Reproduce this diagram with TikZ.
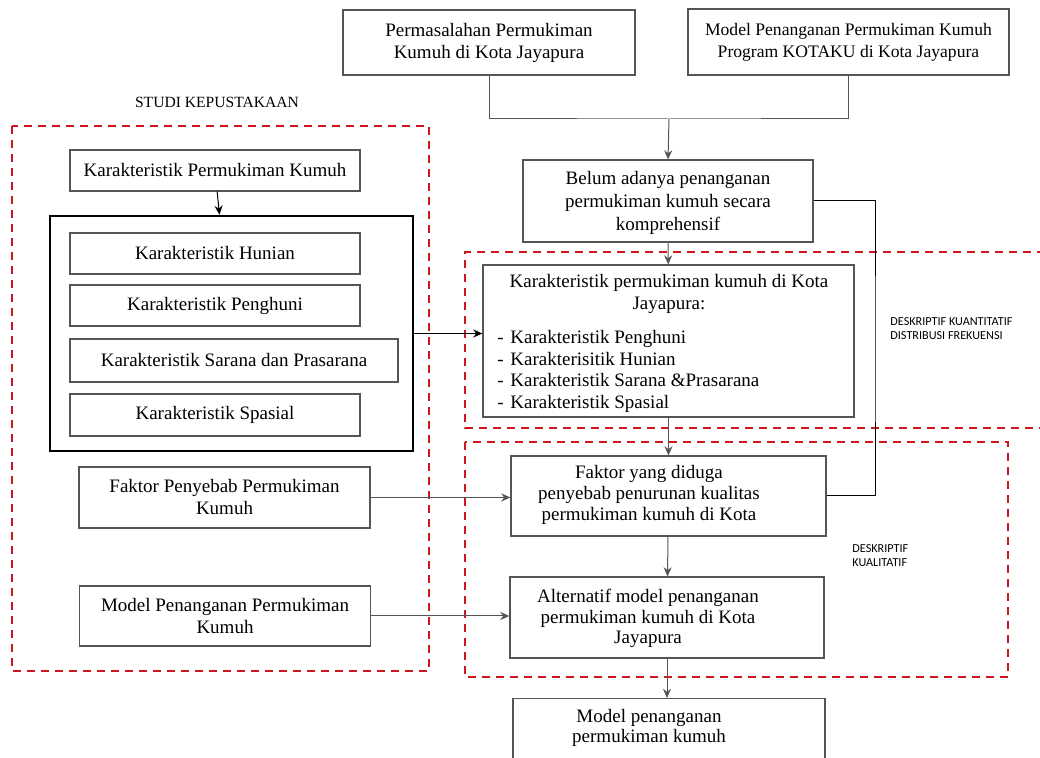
\documentclass[tikz,border=0pt]{standalone}
\usepackage{fontspec}
\setmainfont{Liberation Serif}
\newfontfamily\sanskecil{Carlito}
\usetikzlibrary{arrows.meta}
\definecolor{garisAbu}{RGB}{85,85,85}
\definecolor{merahPutus}{RGB}{205,22,30}
\newcommand{\butir}[1]{\makebox[6.5pt][l]{-}#1}

\begin{document}
\begin{tikzpicture}[x=0.5pt,y=-0.5pt,
  kotak/.style={draw=garisAbu, line width=0.55pt, inner sep=0pt, minimum width=145pt, minimum height=20.5pt, align=center, font=\fontsize{9.5}{11}\selectfont},
  teks/.style={inner sep=0pt, align=center, font=\fontsize{9.5}{11}\selectfont},
  panah/.style={-{Stealth[length=4.6pt,width=4pt]}, draw=garisAbu, line width=0.5pt},
  garis/.style={draw=garisAbu, line width=0.5pt},
  garismerah/.style={draw=merahPutus, line width=1pt, dash pattern=on 4pt off 3pt},
  catatan/.style={inner sep=0pt, align=left, anchor=west, font=\sanskecil\fontsize{6.1}{7}\selectfont}]
  \useasboundingbox (0,0) rectangle (1040,758);

  % sumber masalah
  \node[kotak, minimum width=146pt, minimum height=32.5pt] (masalah) at (489,42.5) {Permasalahan Permukiman\\Kumuh di Kota Jayapura};
  \node[kotak, minimum width=160.5pt, minimum height=33pt, font=\fontsize{8.8}{11}\selectfont] (kotaku) at (848.5,42) {Model Penanganan Permukiman Kumuh\\Program KOTAKU di Kota Jayapura};
  \node[kotak, minimum width=145pt, minimum height=41pt] (belum) at (668,201) {};
  \node[teks, font=\fontsize{9.5}{11.5}\selectfont] (belumTeks) at (668,203) {Belum adanya penanganan\\permukiman kumuh secara\\komprehensif};
  \coordinate (gabung) at (669,119);
  \coordinate (belok) at (875,350);

  % studi kepustakaan
  \node[teks, font=\fontsize{7.8}{9}\selectfont] (studi) at (217,102) {STUDI KEPUSTAKAAN};
  \draw[garismerah] (12,126) rectangle (429,671);
  \node[kotak] (karPmk) at (215,170.5) {Karakteristik Permukiman Kumuh};
  \node[kotak, draw=black, line width=1.2pt, minimum width=181.5pt, minimum height=117.5pt] (grup) at (231.5,333.5) {};
  \node[kotak] (hunian) at (215,253.5) {Karakteristik Hunian};
  \node[kotak] (penghuni) at (215,305.5) {Karakteristik Penghuni};
  \node[kotak, minimum width=164pt, minimum height=21.5pt] (sarana) at (234,360.5) {Karakteristik Sarana dan Prasarana};
  \node[kotak, minimum height=21pt] (spasial) at (215,415) {Karakteristik Spasial};
  \node[kotak, minimum width=145.5pt, minimum height=30.5pt] (faktorLit) at (224.5,497.5) {Faktor Penyebab Permukiman\\Kumuh};
  \node[kotak, minimum width=145.5pt, minimum height=30pt] (modelLit) at (225,616) {Model Penanganan Permukiman\\Kumuh};

  % analisis
  \draw[garismerah] (1045,252) -- (465,252) -- (465,428) -- (1045,428);
  \draw[garismerah] (465,442) rectangle (1008,677);
  \node[kotak, minimum width=185.5pt, minimum height=76pt] (karKota) at (668.5,341) {};
  \node[teks] (karJudul) at (669,294) {Karakteristik permukiman kumuh di Kota\\Jayapura:};
  \node[teks, align=left, anchor=west, font=\fontsize{9.5}{10.8}\selectfont] (karDaftar) at (497,371.5) {\butir{Karakteristik Penghuni}\\\butir{Karakterisitik Hunian}\\\butir{Karakteristik Sarana \&Prasarana}\\\butir{Karakteristik Spasial}};
  \node[kotak, minimum width=157.5pt, minimum height=40pt] (faktor) at (668.5,496) {};
  \node[teks, font=\fontsize{9.5}{10.5}\selectfont] (faktorTeks) at (649,495) {Faktor yang diduga\\penyebab penurunan kualitas\\permukiman kumuh di Kota};
  \node[kotak, minimum width=157pt, minimum height=40.5pt] (alternatif) at (667,617.5) {};
  \node[teks, font=\fontsize{9.5}{10.3}\selectfont] (alternatifTeks) at (648,618.5) {Alternatif model penanganan\\permukiman kumuh di Kota\\Jayapura};
  \node[kotak, anchor=north, minimum width=156pt, minimum height=50pt] (model) at (669,698) {};
  \node[teks, font=\fontsize{9.5}{10}\selectfont] (modelTeks) at (649,728) {Model penanganan\\permukiman kumuh};
  \node[catatan] (kuanti) at (890,329) {DESKRIPTIF KUANTITATIF\\DISTRIBUSI FREKUENSI};
  \node[catatan, font=\sanskecil\fontsize{6.1}{7.4}\selectfont] (kuali) at (852,555.5) {DESKRIPTIF\\KUALITATIF};

  % penghubung
  \draw[garis] (masalah.south) |- (gabung) -| (kotaku.south);
  \draw[panah] (gabung) -- (belum.north);
  \draw[panah] (belum) -- (karKota);
  \draw[garis, draw=black] (belum.east) -| (belok) |- (faktor.east);
  \draw[panah] (karKota) -- (faktor);
  \draw[panah] (faktor) -- (alternatif);
  \draw[panah] (alternatif.south) -- (alternatif.south |- model.north);
  \draw[panah, draw=black] (karPmk) -- (grup);
  \draw[panah, draw=black] (grup.east) -- (karKota.west |- grup.east);
  \draw[panah] (faktorLit.east) -- (faktor.west |- faktorLit.east);
  \draw[panah] (modelLit.east) -- (alternatif.west |- modelLit.east);
\end{tikzpicture}
\end{document}
